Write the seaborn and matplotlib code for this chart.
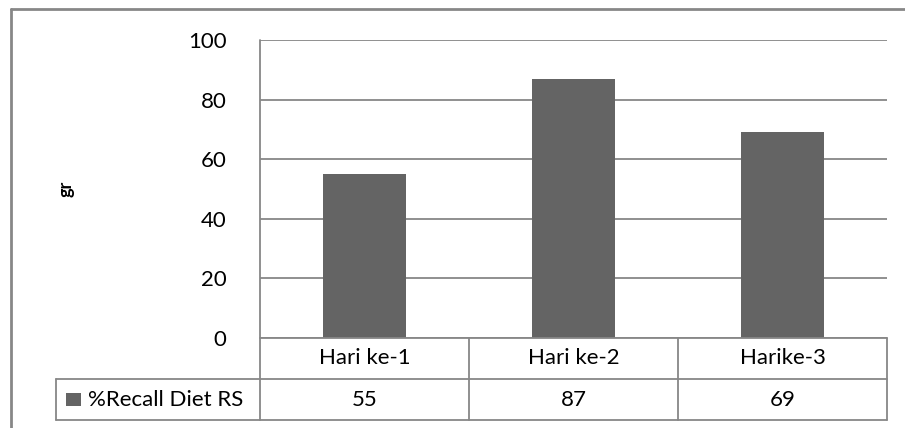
import matplotlib
matplotlib.use("Agg")
import matplotlib.pyplot as plt
from matplotlib.lines import Line2D
from matplotlib.patches import Rectangle
import matplotlib.transforms as mtransforms
import seaborn as sns
import pandas as pd

categories = ["Hari ke-1", "Hari ke-2", "Harike-3"]
values = [55, 87, 69]
series_name = "%Recall Diet RS"
y_ticks = [0, 20, 40, 60, 80, 100]
y_label = "gr"

BAR = "#646464"
LINE = "#878787"
W, H = 905, 428
FS = 16

sns.set_theme(style="white")
plt.rcParams["font.family"] = ["Lato", "DejaVu Sans"]

fig = plt.figure(figsize=(W / 100, H / 100), dpi=100)


def fx(px):
    return px / W


def fy(py):
    return 1 - py / H


# plot area in pixel geometry
L, R, T, B = 260, 887, 40, 338
ax = fig.add_axes([fx(L), fy(B), fx(R) - fx(L), fy(T) - fy(B)])

df = pd.DataFrame({"cat": categories, "val": values})
sns.barplot(data=df, x="cat", y="val", color=BAR, width=0.4,
            saturation=1, linewidth=0, ax=ax, zorder=3)

ax.set_ylim(0, 100)
ax.set_xlim(-0.5, len(categories) - 0.5)
ax.set_yticks(y_ticks)
ax.set_yticklabels([str(t) for t in y_ticks], fontsize=FS, color="#000000")
ax.tick_params(axis="y", length=0, pad=24)
ax.set_xticks([])
ax.set_xlabel("")
ax.set_ylabel("")
ax.yaxis.grid(True, color=LINE, linewidth=1.3, zorder=0)
ax.set_axisbelow(True)
for s in ["top", "right", "bottom", "left"]:
    ax.spines[s].set_visible(False)


def fline(x0, y0, x1, y1, lw=1.3):
    fig.add_artist(Line2D([fx(x0), fx(x1)], [fy(y0), fy(y1)],
                          color=LINE, linewidth=lw, transform=fig.transFigure))


# data table beneath the plot
row1, row2, row3 = 338, 379, 420
leg_left = 56
fline(L, T, L, row3)
fline(L, row1, R, row1)
fline(leg_left, row2, R, row2)
fline(leg_left, row3, R, row3)
fline(leg_left, row2, leg_left, row3)
fline(R, row1, R, row3)
for b in [0.5, 1.5]:
    xp = ax.transData.transform((b, 0))[0] / fig.dpi * 100
    fline(xp, row1, xp, row3)

trans = mtransforms.blended_transform_factory(ax.transData, fig.transFigure)
for i, (c, v) in enumerate(zip(categories, values)):
    ax.text(i, fy((row1 + row2) / 2), c, transform=trans, ha="center",
            va="center", fontsize=FS, color="#000000", clip_on=False)
    ax.text(i, fy((row2 + row3) / 2), str(v), transform=trans, ha="center",
            va="center", fontsize=FS, color="#000000", clip_on=False)

# legend key in the table
fig.add_artist(Rectangle((fx(66), fy(406)), fx(81) - fx(66), fy(393) - fy(406),
                         facecolor=BAR, edgecolor="none", transform=fig.transFigure))
fig.text(fx(88), fy((row2 + row3) / 2), series_name, ha="left", va="center",
         fontsize=FS, color="#000000")

# axis title
fig.text(fx(66), fy(189), y_label, rotation=90, ha="center", va="center",
         fontsize=13, fontweight="bold", color="#000000")

# chart frame
fline(11, 9, W + 5, 9, lw=2)
fline(11, 9, 11, H + 5, lw=2)

fig.savefig("out.png", dpi=100)
